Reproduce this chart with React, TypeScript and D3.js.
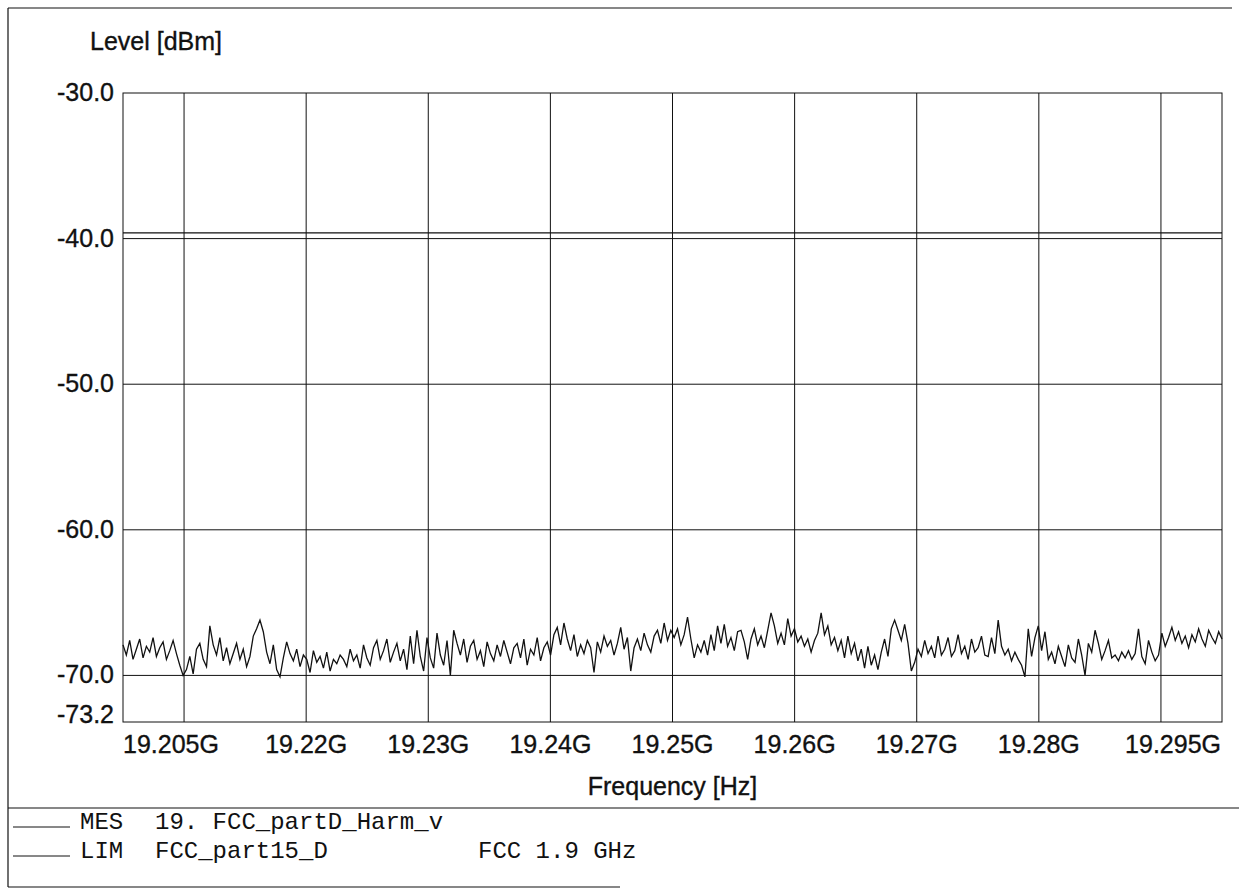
import React from "react";
import * as d3 from "d3";

// Y axis tick values / labels
const yTicks = [-30, -40, -50, -60, -70, -73.2];
const yGrid = [-40, -50, -60, -70];
// X axis tick labels (9 gridlines at segment centres of the 19.2–19.3 GHz span)
const xTickLabels = ["19.205G", "19.22G", "19.23G", "19.24G", "19.25G", "19.26G", "19.27G", "19.28G", "19.295G"];
const freqStartGHz = 19.2;
const freqStopGHz = 19.3;

// limit line (LIM)
const limitLevel = -39.6;

// measured trace (MES), dBm, equally spaced sweep points
const mesLevels = [
  -67.9, -68.6, -67.6, -68.9, -68.2, -67.5, -68.8, -68.0, -68.4, -67.4, -68.7, -68.1, -67.7, -68.9, -68.3, -67.6, -68.5, -69.3, -70.0, -69.6, -68.7, -69.9, -68.2, -67.8, -68.9, -69.4, -66.6, -67.9, -68.6, -67.4, -69.0, -68.1, -69.2,
  -68.5, -67.8, -68.9, -68.2, -69.4, -68.7, -67.3, -66.8, -66.2, -67.0, -68.4, -69.2, -67.9, -69.6, -70.1, -68.8, -67.7, -68.5, -69.0, -68.2, -69.4, -68.6, -68.9, -69.8, -68.3, -69.1, -68.7, -69.5, -68.4, -69.7, -68.9, -69.2, -68.6,
  -68.9, -69.4, -68.2, -69.0, -68.6, -69.5, -67.9, -68.8, -69.3, -68.1, -67.6, -68.9, -68.3, -67.5, -69.1, -68.4, -67.8, -69.0, -68.2, -69.6, -67.3, -69.2, -66.9, -68.7, -69.7, -67.4, -68.8, -69.5, -67.1, -68.6, -69.3, -67.6, -70.0,
  -66.9, -67.8, -68.6, -67.5, -69.1, -68.0, -67.6, -68.9, -68.3, -69.4, -67.7, -68.5, -69.0, -67.9, -68.7, -67.6, -68.4, -69.2, -68.1, -67.8, -68.8, -67.5, -69.3, -68.2, -68.6, -67.4, -69.0, -68.1, -67.7, -68.6, -67.2, -66.7, -67.9,
  -66.4, -67.5, -68.3, -67.2, -68.7, -67.9, -68.5, -67.6, -68.1, -69.8, -67.7, -68.4, -67.3, -68.0, -67.6, -68.6, -67.8, -66.7, -68.2, -67.4, -69.7, -68.1, -67.5, -68.3, -67.1, -67.9, -68.4, -67.3, -66.9, -67.8, -66.4, -67.6, -66.9,
  -67.4, -66.8, -67.9, -67.2, -66.0, -67.5, -68.8, -67.9, -68.4, -67.6, -68.6, -67.2, -68.3, -66.6, -67.8, -66.5, -68.0, -67.4, -68.3, -67.0, -66.9, -67.7, -68.9, -67.5, -66.8, -67.9, -67.3, -68.1, -66.9, -65.7, -66.6, -67.8, -67.1,
  -67.9, -66.1, -67.3, -66.8, -67.7, -67.3, -68.0, -67.5, -68.4, -67.6, -67.1, -65.7, -67.2, -66.6, -67.9, -67.4, -68.3, -67.6, -68.8, -67.3, -68.5, -67.8, -69.0, -68.2, -69.5, -68.0, -69.3, -68.6, -69.6, -68.4, -67.5, -68.7, -66.8,
  -66.2, -66.9, -67.6, -66.5, -67.8, -69.7, -69.1, -68.2, -68.7, -67.6, -68.5, -68.0, -68.8, -67.3, -68.6, -68.2, -67.4, -68.7, -68.3, -67.2, -68.5, -68.0, -68.9, -67.5, -68.4, -68.1, -67.3, -68.6, -68.7, -67.4, -68.5, -66.2, -68.0,
  -68.6, -68.2, -69.0, -68.4, -68.9, -69.3, -70.1, -66.8, -68.7, -67.4, -66.6, -68.3, -67.0, -68.9, -68.4, -69.2, -68.0, -68.7, -69.4, -67.9, -68.8, -69.1, -67.5, -68.6, -70.0, -67.8, -68.4, -66.9, -67.8, -68.9, -68.3, -67.6, -68.8,
  -68.6, -69.0, -68.4, -68.8, -68.3, -68.9, -68.5, -66.8, -68.7, -69.2, -67.6, -68.4, -69.0, -68.6, -67.1, -68.0, -67.4, -66.7, -67.6, -67.0, -67.8, -67.3, -68.1, -67.2, -67.7, -66.8, -67.5, -68.0, -66.9, -67.4, -67.8, -67.0, -67.5,
];

const legendRows = [
  { code: "MES", name: "19. FCC_partD_Harm_v", extra: "" },
  { code: "LIM", name: "FCC_part15_D", extra: "FCC 1.9 GHz" },
];

const W = 1239;
const H = 889;
const plot = { left: 123, top: 93, right: 1222, bottom: 722 };
const sans = "'Liberation Sans', Arial, Helvetica, sans-serif";
const mono = "'Liberation Mono', 'Courier New', monospace";
const ink = "#111";

export default function App() {
  const x = d3.scaleLinear().domain([freqStartGHz, freqStopGHz]).range([plot.left, plot.right]);
  const y = d3.scaleLinear().domain([-73.2, -30]).range([plot.bottom, plot.top]);
  const n = mesLevels.length;
  const step = (freqStopGHz - freqStartGHz) / (n - 1);
  const pts: [number, number][] = mesLevels.map((v, i) => [freqStartGHz + i * step, v]);
  const line = d3
    .line<[number, number]>()
    .x((d) => x(d[0]))
    .y((d) => y(d[1]));
  const seg = (freqStopGHz - freqStartGHz) / xTickLabels.length;
  const xTicks = xTickLabels.map((lab, i) => ({ lab, f: freqStartGHz + (i + 0.5) * seg }));

  return (
    <svg width={W} height={H} style={{ position: "absolute", left: 0, top: 0, background: "#fff" }}>
      <rect x={0} y={0} width={W} height={H} fill="#fff" />
      {/* outer frame */}
      <g stroke={ink} strokeWidth={1.2} fill="none">
        <line x1={8} y1={8} x2={1232} y2={8} />
        <line x1={8} y1={8} x2={8} y2={887} />
        <line x1={8} y1={808} x2={1239} y2={808} />
        <line x1={8} y1={887} x2={620} y2={887} />
      </g>

      {/* grid */}
      <g stroke={ink} strokeWidth={1}>
        {yGrid.map((v) => (
          <line key={v} x1={plot.left} x2={plot.right} y1={y(v)} y2={y(v)} />
        ))}
        {xTicks.map((t) => (
          <line key={t.lab} x1={x(t.f)} x2={x(t.f)} y1={plot.top} y2={plot.bottom} />
        ))}
        <rect x={plot.left} y={plot.top} width={plot.right - plot.left} height={plot.bottom - plot.top} fill="none" />
      </g>

      {/* limit line */}
      <line x1={plot.left} x2={plot.right} y1={y(limitLevel)} y2={y(limitLevel)} stroke={ink} strokeWidth={1.2} />

      {/* measurement trace */}
      <path d={line(pts) || ""} fill="none" stroke={ink} strokeWidth={1.3} strokeLinejoin="miter" />

      {/* y labels */}
      <g fontFamily={sans} fontSize={25} fill={ink} stroke={ink} strokeWidth={0.35} textAnchor="end">
        {yTicks.map((v) => (
          <text key={v} x={114} y={Math.min(y(v) + 8, 723)}>
            {v.toFixed(1)}
          </text>
        ))}
      </g>
      <text x={90} y={50} fontFamily={sans} fontSize={25} fill={ink} stroke={ink} strokeWidth={0.35}>
        Level [dBm]
      </text>

      {/* x labels */}
      <g fontFamily={sans} fontSize={25} fill={ink} stroke={ink} strokeWidth={0.35}>
        {xTicks.map((t, i) => {
          const first = i === 0;
          const last = i === xTicks.length - 1;
          return (
            <text
              key={t.lab}
              x={first ? plot.left : last ? plot.right - 1 : x(t.f)}
              y={753}
              textAnchor={first ? "start" : last ? "end" : "middle"}
            >
              {t.lab}
            </text>
          );
        })}
      </g>
      <text x={(plot.left + plot.right) / 2} y={795} textAnchor="middle" fontFamily={sans} fontSize={25} fill={ink} stroke={ink} strokeWidth={0.35}>
        Frequency [Hz]
      </text>

      {/* legend */}
      <g fontFamily={mono} fontSize={24} fill={ink}>
        {legendRows.map((r, i) => {
          const by = 829 + i * 29;
          return (
            <g key={r.code}>
              <line x1={13} x2={70} y1={by - 2} y2={by - 2} stroke={ink} strokeWidth={1} />
              <text x={80} y={by}>{r.code}</text>
              <text x={155} y={by} style={{ whiteSpace: "pre" }}>{r.name}</text>
              {r.extra && <text x={478} y={by}>{r.extra}</text>}
            </g>
          );
        })}
      </g>
    </svg>
  );
}
